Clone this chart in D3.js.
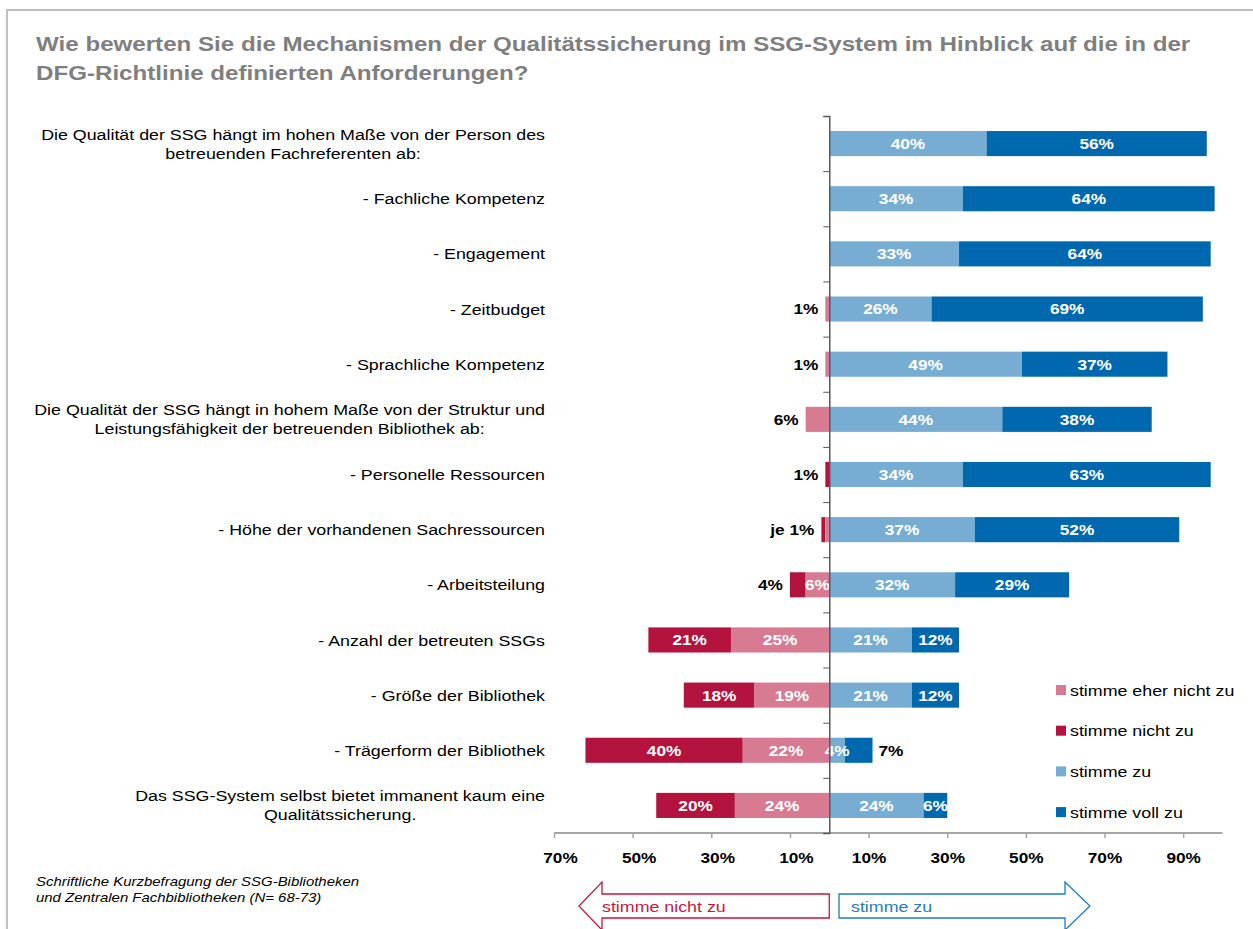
<!DOCTYPE html>
<html>
<head>
<meta charset="utf-8">
<script src="https://cdn.jsdelivr.net/npm/d3@7"></script>
<style>
  body { margin: 0; background: #fff; }
  svg { display: block; font-family: "Liberation Sans", Arial, sans-serif; }
</style>
</head>
<body>
<div id="chart"></div>
<script>
/** categories, top to bottom (multi-line labels split with |) */
var categories = [
  "Die Qualität der SSG hängt im hohen Maße von der Person des|betreuenden Fachreferenten ab:",
  "- Fachliche Kompetenz",
  "- Engagement",
  "- Zeitbudget",
  "- Sprachliche Kompetenz",
  "Die Qualität der SSG hängt in hohem Maße von der Struktur und|Leistungsfähigkeit der betreuenden Bibliothek ab:",
  "- Personelle Ressourcen",
  "- Höhe der vorhandenen Sachressourcen",
  "- Arbeitsteilung",
  "- Anzahl der betreuten SSGs",
  "- Größe der Bibliothek",
  "- Trägerform der Bibliothek",
  "Das SSG-System selbst bietet immanent kaum eine|Qualitätssicherung."
];

/** series values in percent */
var eherNicht = [0, 0, 0, 1, 1, 6, 0, 1, 6, 25, 19, 22, 24];
var nicht     = [0, 0, 0, 0, 0, 0, 1, 1, 4, 21, 18, 40, 20];
var zu        = [40, 34, 33, 26, 49, 44, 34, 37, 32, 21, 21, 4, 24];
var vollZu    = [56, 64, 64, 69, 37, 38, 63, 52, 29, 12, 12, 7, 6];

/** labels written next to the bar instead of inside */
var notes = [
  {row: 3, side: "left", seg: "eher", text: "1%"},
  {row: 4, side: "left", seg: "eher", text: "1%"},
  {row: 5, side: "left", seg: "eher", text: "6%"},
  {row: 6, side: "left", seg: "nicht", text: "1%"},
  {row: 7, side: "left", seg: "nicht", text: "je 1%"},
  {row: 8, side: "left", seg: "nicht", text: "4%"},
  {row: 11, side: "right", seg: "voll", text: "7%"}
];

var tickValues = [-70, -50, -30, -10, 10, 30, 50, 70, 90];
var legendNames = ["stimme eher nicht zu", "stimme nicht zu", "stimme zu", "stimme voll zu"];

var colors = {eher: "#d77a92", nicht: "#b4133e", zu: "#77add3", voll: "#0068af"};

var W = 1253, H = 929;
/** the original type is a bit wider than Liberation Sans */
var SX = 1.15;
function place(px, py) { return "translate(" + px + "," + py + ") scale(" + SX + ",1)"; }

var svg = d3.select("#chart").append("svg")
  .attr("width", W)
  .attr("height", H);

/** frame lines */
svg.append("path")
  .attr("d", "M7,929 V10 H1253")
  .attr("fill", "none")
  .attr("stroke", "#bfbfbf")
  .attr("stroke-width", 2);

/** title */
var title = svg.append("text")
  .attr("transform", place(36, 0))
  .attr("font-size", 21)
  .attr("font-weight", "bold")
  .attr("fill", "#7f7f7f");
title.append("tspan").attr("x", 0).attr("y", 51)
  .text("Wie bewerten Sie die Mechanismen der Qualitätssicherung im SSG-System im Hinblick auf die in der");
title.append("tspan").attr("x", 0).attr("y", 80)
  .text("DFG-Richtlinie definierten Anforderungen?");

/** scales */
var x = d3.scaleLinear()
  .domain([-70, 100])
  .range([554, 1222.5]);

var y = d3.scaleBand()
  .domain(d3.range(categories.length))
  .range([116, 833])
  .paddingInner(0.545)
  .paddingOuter(0.2725);

/** build stacked segments per row */
var segs = [];
categories.forEach(function(c, i) {
  segs.push({row: i, key: "nicht", v: nicht[i], x0: -(eherNicht[i] + nicht[i]), x1: -eherNicht[i]});
  segs.push({row: i, key: "eher", v: eherNicht[i], x0: -eherNicht[i], x1: 0});
  segs.push({row: i, key: "zu", v: zu[i], x0: 0, x1: zu[i]});
  segs.push({row: i, key: "voll", v: vollZu[i], x0: zu[i], x1: zu[i] + vollZu[i]});
});
segs = segs.filter(function(d) { return d.v > 0; });

svg.append("g").selectAll("rect")
  .data(segs)
  .enter()
  .append("rect")
    .attr("x", function(d) { return x(d.x0); })
    .attr("y", function(d) { return y(d.row); })
    .attr("width", function(d) { return x(d.x1) - x(d.x0); })
    .attr("height", y.bandwidth())
    .attr("fill", function(d) { return colors[d.key]; });

/** white labels inside the segments */
function hasNote(d) {
  return notes.some(function(n) { return n.row === d.row && n.seg === d.key; });
}
svg.append("g").selectAll("text")
  .data(segs.filter(function(d) { return d.v > 1 && !hasNote(d); }))
  .enter()
  .append("text")
    .attr("transform", function(d) {
      return place((x(d.x0) + x(d.x1)) / 2, y(d.row) + y.bandwidth() / 2);
    })
    .attr("dy", "0.36em")
    .attr("text-anchor", "middle")
    .attr("font-size", 15)
    .attr("font-weight", "bold")
    .attr("fill", "#fff")
    .text(function(d) { return d.v + "%"; });

/** black labels beside the bars */
svg.append("g").selectAll("text")
  .data(notes)
  .enter()
  .append("text")
    .attr("transform", function(n) {
      var px = n.side === "left"
        ? x(-(eherNicht[n.row] + nicht[n.row])) - 7
        : x(zu[n.row] + vollZu[n.row]) + 6;
      return place(px, y(n.row) + y.bandwidth() / 2);
    })
    .attr("dy", "0.36em")
    .attr("text-anchor", function(n) { return n.side === "left" ? "end" : "start"; })
    .attr("font-size", 15)
    .attr("font-weight", "bold")
    .attr("fill", "#000")
    .text(function(n) { return n.text; });

/** category labels */
var catG = svg.append("g");
categories.forEach(function(c, i) {
  var lines = c.split("|");
  var cy = y(i) + y.bandwidth() / 2;
  var lh = 19;
  var t = catG.append("text")
    .attr("transform", place(545, 0))
    .attr("font-size", 15.5)
    .attr("fill", "#000");
  lines.forEach(function(l, k) {
    t.append("tspan")
      .attr("y", cy + (k - (lines.length - 1) / 2) * lh)
      .attr("dy", "0.36em")
      .text(l);
  });
  if (lines.length === 1) {
    t.attr("text-anchor", "end").selectAll("tspan").attr("x", 0);
  } else {
    var maxW = 0;
    t.selectAll("tspan").each(function() { maxW = Math.max(maxW, this.getComputedTextLength()); });
    t.attr("text-anchor", "middle").selectAll("tspan").attr("x", -maxW / 2);
  }
});

/** bottom axis */
var axisG = svg.append("g")
  .attr("transform", "translate(0,833)")
  .call(d3.axisBottom(x)
    .tickValues(tickValues)
    .tickSize(5)
    .tickPadding(14)
    .tickFormat(function(d) { return Math.abs(d) + "%"; }));
axisG.select(".domain")
  .attr("d", "M" + x(-70) + ",0H" + x(100))
  .attr("stroke", "#a6a6a6")
  .attr("stroke-width", 2);
axisG.selectAll(".tick line").attr("stroke", "#a6a6a6").attr("stroke-width", 1.5);
/** negative side labels sit a little right of their ticks, as in the original */
axisG.selectAll(".tick text")
  .attr("transform", function(d) { return "translate(" + (d < 0 ? 6 : 0) + ",0) scale(" + SX + ",1)"; })
  .attr("font-size", 15)
  .attr("font-weight", "bold")
  .attr("font-family", "Liberation Sans, Arial, sans-serif")
  .attr("fill", "#000");

/** zero line with category ticks */
var zeroG = svg.append("g")
  .attr("transform", "translate(" + x(0) + ",0)")
  .call(d3.axisLeft(d3.scaleLinear().domain([0, categories.length]).range([116, 833]))
    .ticks(categories.length)
    .tickSize(6)
    .tickFormat(""));
zeroG.select(".domain").attr("stroke", "#595959").attr("stroke-width", 1.5);
zeroG.selectAll(".tick line").attr("stroke", "#595959");

/** legend */
var legendKeys = ["eher", "nicht", "zu", "voll"];
var lg = svg.append("g").selectAll("g")
  .data(legendNames)
  .enter()
  .append("g")
    .attr("transform", function(d, i) { return "translate(1056," + (690 + i * 40.7) + ")"; });
lg.append("rect")
  .attr("x", 0).attr("y", -5)
  .attr("width", 10).attr("height", 10)
  .attr("fill", function(d, i) { return colors[legendKeys[i]]; });
lg.append("text")
  .attr("transform", place(14, 0))
  .attr("dy", "0.36em")
  .attr("font-size", 15.5)
  .attr("fill", "#000")
  .text(function(d) { return d; });

/** direction arrows */
var ay = 906;
svg.append("path")
  .attr("d", "M" + x(0) + "," + (ay - 12) + "H602V" + (ay - 24) + "L579," + ay + "L602," + (ay + 24) + "V" + (ay + 12) + "H" + x(0) + "Z")
  .attr("fill", "#fff")
  .attr("stroke", "#c8173f")
  .attr("stroke-width", 1.3);
svg.append("text")
  .attr("transform", place(602, ay))
  .attr("dy", "0.36em")
  .attr("font-size", 15.5)
  .attr("fill", "#c8173f")
  .text("stimme nicht zu");

svg.append("path")
  .attr("d", "M839," + (ay - 12) + "H1065V" + (ay - 24) + "L1090," + ay + "L1065," + (ay + 24) + "V" + (ay + 12) + "H839Z")
  .attr("fill", "#fff")
  .attr("stroke", "#1f7cc1")
  .attr("stroke-width", 1.3);
svg.append("text")
  .attr("transform", place(851, ay))
  .attr("dy", "0.36em")
  .attr("font-size", 15.5)
  .attr("fill", "#1f7cc1")
  .text("stimme zu");

/** source note */
var src = svg.append("text")
  .attr("transform", place(36, 0))
  .attr("font-size", 13)
  .attr("font-style", "italic")
  .attr("fill", "#000");
src.append("tspan").attr("x", 0).attr("y", 886).text("Schriftliche Kurzbefragung der SSG-Bibliotheken");
src.append("tspan").attr("x", 0).attr("y", 902).text("und Zentralen Fachbibliotheken (N= 68-73)");
</script>
</body>
</html>
